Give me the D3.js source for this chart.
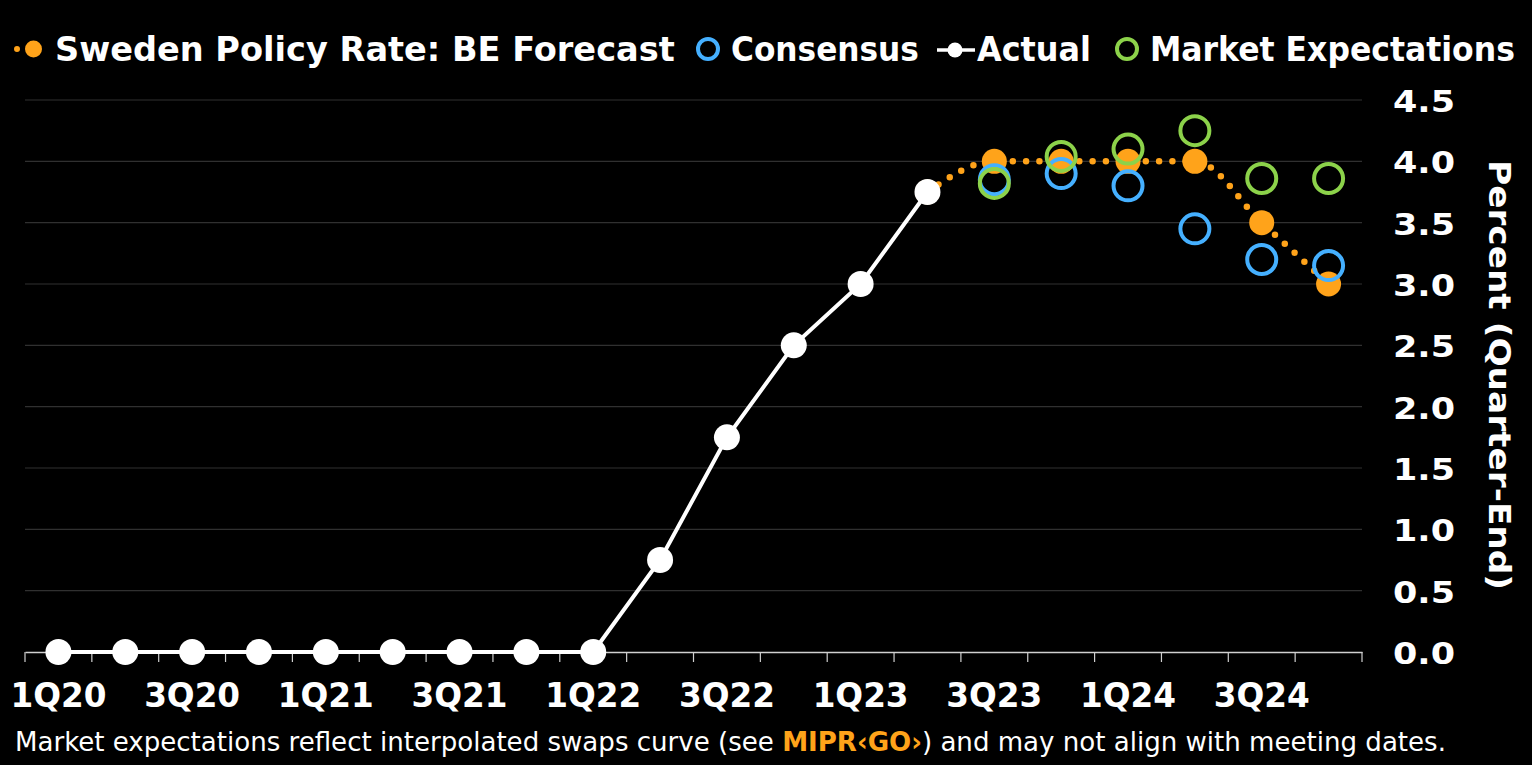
<!DOCTYPE html>
<html><head><meta charset="utf-8">
<script src="https://cdn.jsdelivr.net/npm/d3@7"></script>
<style>
html,body{margin:0;padding:0;background:#000;}
svg{display:block;}
</style></head>
<body>
<svg id="chart" width="1532" height="765"></svg>
<script>
const quarters = ["1Q20","2Q20","3Q20","4Q20","1Q21","2Q21","3Q21","4Q21","1Q22","2Q22","3Q22","4Q22","1Q23","2Q23","3Q23","4Q23","1Q24","2Q24","3Q24","4Q24"];
const xTickLabels = ["1Q20","3Q20","1Q21","3Q21","1Q22","3Q22","1Q23","3Q23","1Q24","3Q24"];
const actual    = [0,0,0,0,0,0,0,0,0,0.75,1.75,2.5,3.0,3.75,null,null,null,null,null,null];
const forecast  = [null,null,null,null,null,null,null,null,null,null,null,null,null,3.75,4.0,4.0,4.0,4.0,3.5,3.0];
const consensus = [null,null,null,null,null,null,null,null,null,null,null,null,null,null,3.85,3.9,3.8,3.45,3.2,3.15];
const market    = [null,null,null,null,null,null,null,null,null,null,null,null,null,null,3.82,4.04,4.1,4.25,3.86,3.86];
const yTicks = [0,0.5,1.0,1.5,2.0,2.5,3.0,3.5,4.0,4.5];

const C_ORANGE = "#ffa31a", C_BLUE = "#45b0ff", C_GREEN = "#8cd24a";
const FONT = "'DejaVu Sans', Verdana, sans-serif";

const svg = d3.select("#chart");
const pLeft = 25, pRight = 1362, pTop = 100, pBottom = 652;

const x = d3.scaleBand().domain(quarters).range([pLeft, pRight]).padding(0);
const y = d3.scaleLinear().domain([0, 4.5]).range([pBottom, pTop]);
const cx = q => x(q) + x.bandwidth() / 2;

// fit a text element horizontally to a target width using a scale transform
function fitText(sel, tx, ty, target, anchor) {
  sel.each(function() {
    const el = d3.select(this);
    el.attr("x", 0).attr("y", 0).attr("dy", null);
    const w0 = this.getComputedTextLength();
    const s = target / w0;
    let x0 = tx;
    if (anchor === "middle") x0 = tx - target / 2;
    if (anchor === "end") x0 = tx - target;
    el.attr("text-anchor", "start")
      .attr("transform", `translate(${x0},${ty}) scale(${s},1)`);
  });
}

// gridlines
svg.append("g").selectAll("line").data(yTicks.filter(v => v > 0)).join("line")
  .attr("x1", pLeft).attr("x2", pRight)
  .attr("y1", d => y(d)).attr("y2", d => y(d))
  .attr("stroke", "#303030").attr("stroke-width", 1.2);

// x axis
const xAxis = d3.axisBottom(x).tickSize(10).tickSizeOuter(0).tickFormat("");
const gx = svg.append("g").attr("transform", `translate(0,${pBottom})`).call(xAxis);
gx.select(".domain").attr("stroke", "#d0d0d0").attr("stroke-width", 1.5);
gx.selectAll(".tick line").attr("stroke", "#d0d0d0").attr("stroke-width", 1.2)
  .attr("transform", `translate(${-x.bandwidth()/2},0)`);
gx.append("line").attr("x1", pRight).attr("x2", pRight).attr("y1", 0).attr("y2", 10)
  .attr("stroke", "#d0d0d0").attr("stroke-width", 1.2);

// x labels
svg.append("g").selectAll("text").data(xTickLabels).join("text")
  .attr("font-family", FONT).attr("font-weight", "bold").attr("font-size", 33)
  .attr("fill", "#fff")
  .text(d => d)
  .each(function(d) { fitText(d3.select(this), cx(d), 707, 96, "middle"); });

// y axis labels (right)
const yAxis = d3.axisRight(y).tickValues(yTicks).tickSize(0).tickFormat(d3.format(".1f"));
const gy = svg.append("g").attr("transform", `translate(${pRight + 31},0)`).call(yAxis);
gy.select(".domain").remove();
gy.selectAll(".tick text")
  .attr("font-family", FONT).attr("font-weight", "bold").attr("font-size", 31)
  .attr("fill", "#fff")
  .each(function() { fitText(d3.select(this), 0, 11.5, 62, "start"); });

// y axis title
svg.append("text")
  .attr("transform", `translate(1489,375) rotate(90)`)
  .attr("text-anchor", "middle")
  .attr("font-family", FONT).attr("font-weight", "bold").attr("font-size", 31)
  .attr("fill", "#fff")
  .attr("textLength", 430).attr("lengthAdjust", "spacingAndGlyphs")
  .text("Percent (Quarter-End)");

// forecast dotted line
const fData = quarters.map((q, i) => ({q, v: forecast[i]})).filter(d => d.v != null);
svg.append("path").datum(fData)
  .attr("d", d3.line().x(d => cx(d.q)).y(d => y(d.v)).curve(d3.curveMonotoneX))
  .attr("fill", "none").attr("stroke", C_ORANGE).attr("stroke-width", 6.5)
  .attr("stroke-linecap", "round").attr("stroke-dasharray", "0 13.3");
svg.append("g").selectAll("circle").data(fData).join("circle")
  .attr("cx", d => cx(d.q)).attr("cy", d => y(d.v)).attr("r", 12.5)
  .attr("fill", C_ORANGE);

// consensus rings
const cData = quarters.map((q, i) => ({q, v: consensus[i]})).filter(d => d.v != null);
svg.append("g").selectAll("circle").data(cData).join("circle")
  .attr("cx", d => cx(d.q)).attr("cy", d => y(d.v)).attr("r", 14.5)
  .attr("fill", "none").attr("stroke", C_BLUE).attr("stroke-width", 4);

// market rings
const mData = quarters.map((q, i) => ({q, v: market[i]})).filter(d => d.v != null);
svg.append("g").selectAll("circle").data(mData).join("circle")
  .attr("cx", d => cx(d.q)).attr("cy", d => y(d.v)).attr("r", 14.5)
  .attr("fill", "none").attr("stroke", C_GREEN).attr("stroke-width", 4);

// actual line
const aData = quarters.map((q, i) => ({q, v: actual[i]})).filter(d => d.v != null);
svg.append("path").datum(aData)
  .attr("d", d3.line().x(d => cx(d.q)).y(d => y(d.v)))
  .attr("fill", "none").attr("stroke", "#fff").attr("stroke-width", 4);
svg.append("g").selectAll("circle").data(aData).join("circle")
  .attr("cx", d => cx(d.q)).attr("cy", d => y(d.v)).attr("r", 13)
  .attr("fill", "#fff");

// legend
const lg = svg.append("g");
const legendY = 61;
function legText(xs, w, t) {
  const el = lg.append("text")
    .attr("font-family", FONT).attr("font-weight", "bold").attr("font-size", 33)
    .attr("fill", "#fff").text(t);
  fitText(el, xs, legendY, w, "start");
}
lg.append("line").attr("x1", 17).attr("x2", 46).attr("y1", 49).attr("y2", 49)
  .attr("stroke", C_ORANGE).attr("stroke-width", 6).attr("stroke-linecap", "round")
  .attr("stroke-dasharray", "0 14.5");
lg.append("circle").attr("cx", 33.5).attr("cy", 49).attr("r", 8.5).attr("fill", C_ORANGE);
legText(55, 620, "Sweden Policy Rate: BE Forecast");

lg.append("circle").attr("cx", 708).attr("cy", 49).attr("r", 10)
  .attr("fill", "none").attr("stroke", C_BLUE).attr("stroke-width", 4);
legText(731, 188, "Consensus");

lg.append("line").attr("x1", 937).attr("x2", 975).attr("y1", 50).attr("y2", 50)
  .attr("stroke", "#fff").attr("stroke-width", 3.5);
lg.append("circle").attr("cx", 955).attr("cy", 50).attr("r", 7.5).attr("fill", "#fff");
legText(977, 114, "Actual");

lg.append("circle").attr("cx", 1127).attr("cy", 49).attr("r", 10)
  .attr("fill", "none").attr("stroke", C_GREEN).attr("stroke-width", 4);
legText(1150, 365, "Market Expectations");

// footnote
const fn = svg.append("text")
  .attr("font-family", "'DejaVu Sans Condensed', 'DejaVu Sans', sans-serif")
  .attr("font-stretch", "condensed")
  .attr("font-size", 26).attr("fill", "#fff");
fn.append("tspan").text("Market expectations reflect interpolated swaps curve (see ");
fn.append("tspan").attr("fill", C_ORANGE).attr("font-weight", "bold").text("MIPR\u2039GO\u203A");
fn.append("tspan").text(") and may not align with meeting dates.");
fitText(fn, 15, 751, 1432, "start");
</script>
</body></html>
